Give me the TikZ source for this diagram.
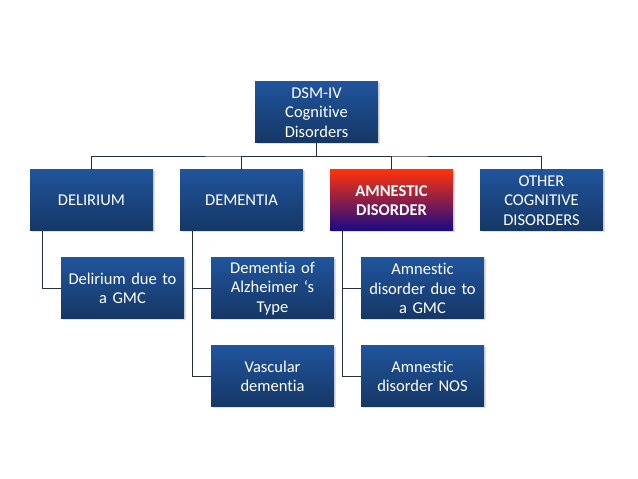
\documentclass[tikz,border=0pt]{standalone}
\usepackage{fontspec}
\setmainfont{Carlito}[Ligatures=NoCommon]
\usetikzlibrary{shadows}

\definecolor{boxtop}{RGB}{32,84,155}
\definecolor{boxbottom}{RGB}{21,55,102}
\definecolor{wire}{RGB}{35,48,62}
\definecolor{amntop}{RGB}{255,50,10}
\definecolor{amnmid}{RGB}{125,22,170}
\definecolor{amnbottom}{RGB}{22,10,135}

\begin{document}
\begin{tikzpicture}[x=1pt,y=1pt,
	box/.style={draw=none, top color=boxtop, bottom color=boxbottom,
		minimum width=123pt, minimum height=61pt, text width=119pt, inner xsep=2pt,
		align=center, text=white, font=\fontsize{16.5}{19.5}\selectfont,
		drop shadow={opacity=0.25, shadow xshift=1.5pt, shadow yshift=-1.5pt}},
	hot/.style={box, top color=amntop, middle color=amnmid, bottom color=amnbottom,
		font=\fontsize{16.5}{19.5}\selectfont\bfseries},
	link/.style={draw=wire, line width=0.8pt}]
	\useasboundingbox (0,0) rectangle (638,479);
		\node[box] (root) at (316.5,366.5) {DSM-IV\\Cognitive\\Disorders};
		\node[box] (delirium) at (91.5,278.5) {DELIRIUM};
		\node[box] (dementia) at (241.5,278.5) {DEMENTIA};
		\node[hot] (amnestic) at (391.5,278.5) {AMNESTIC\\DISORDER};
		\node[box] (other) at (541.5,278.5) {OTHER\\COGNITIVE\\DISORDERS};
		\node[box] (delgmc) at (122.5,190.5) {Delirium due to\\a GMC};
		\node[box] (alz) at (272.5,190.5) {Dementia of\\Alzheimer ‘s\\Type};
		\node[box] (vasc) at (272.5,102.5) {Vascular\\dementia};
		\node[box] (amngmc) at (422.5,190.5) {Amnestic\\disorder due to\\a GMC};
		\node[box] (amnnos) at (422.5,102.5) {Amnestic\\disorder NOS};
	\coordinate (bar) at (316.5,323);
	% top level
		\draw[link] (root.south) -- (bar);
		\draw[link] (delirium.north) |- (bar) -| (other.north);
		\draw[link] (dementia.north) |- (bar);
		\draw[link] (amnestic.north) |- (bar);
	% sub types
		\draw[link] ([xshift=13pt]delirium.south west) |- (delgmc.west);
		\draw[link] ([xshift=13pt]dementia.south west) |- (alz.west);
		\draw[link] ([xshift=13pt]dementia.south west) |- (vasc.west);
		\draw[link] ([xshift=13pt]amnestic.south west) |- (amngmc.west);
		\draw[link] ([xshift=13pt]amnestic.south west) |- (amnnos.west);
	\end{tikzpicture}
\end{document}
